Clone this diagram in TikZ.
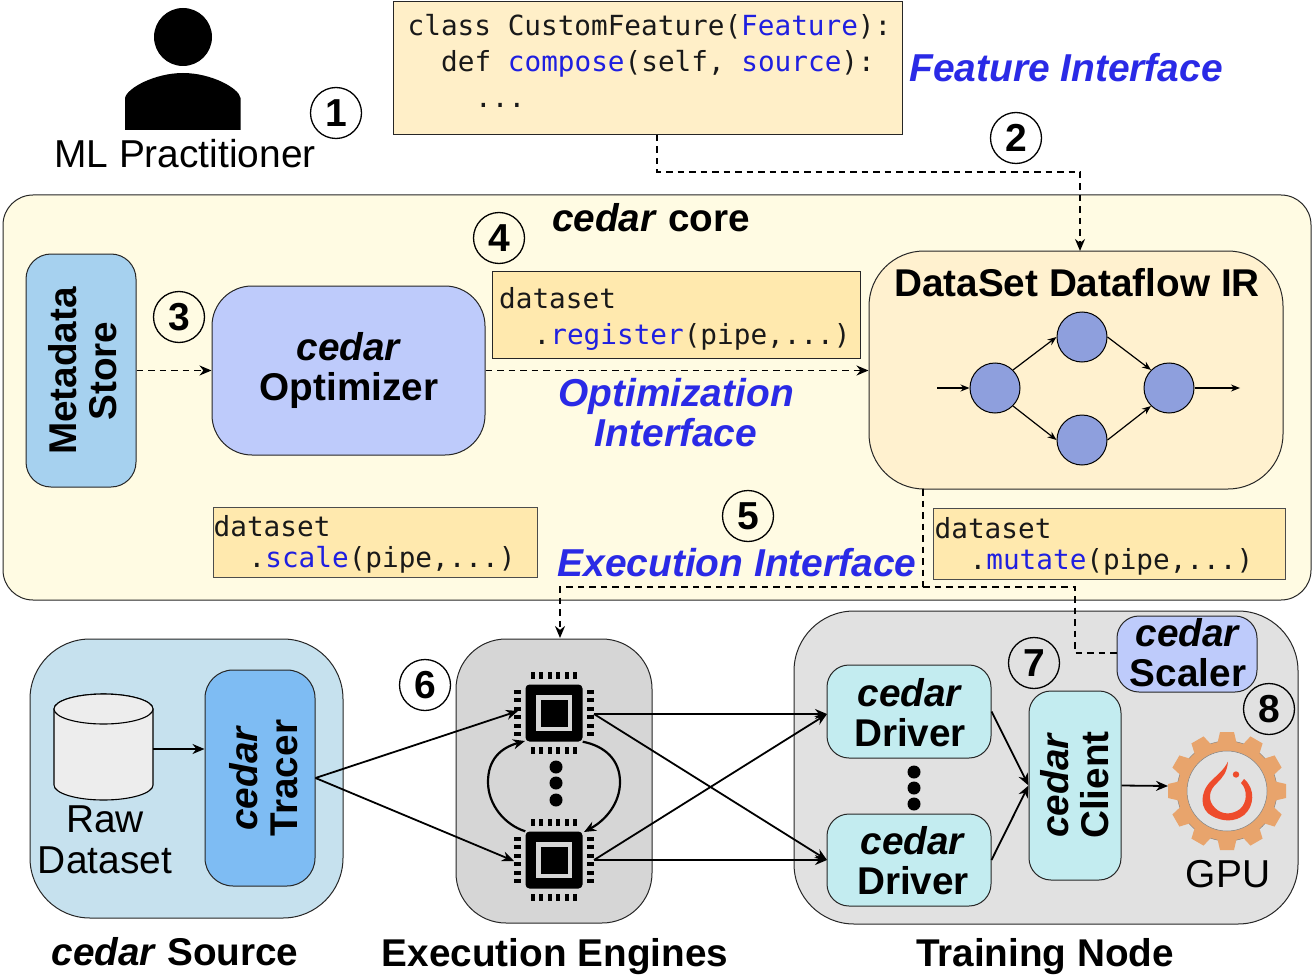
\documentclass[tikz,border=0pt]{standalone}
\usepackage{fontspec}
\setmainfont{Liberation Sans}
\newfontfamily\codefont{DejaVu Sans Mono}
\usetikzlibrary{arrows.meta,calc}
\definecolor{coreY}{HTML}{FFFBE3}
\definecolor{boxO}{HTML}{FFEFC8}
\definecolor{codeO}{HTML}{FFE9AE}
\definecolor{irO}{HTML}{FFF1CF}
\definecolor{metaB}{HTML}{A6D1EF}
\definecolor{optB}{HTML}{BECBFB}
\definecolor{srcB}{HTML}{C6E1EE}
\definecolor{traceB}{HTML}{7EBCF3}
\definecolor{engG}{HTML}{D6D6D6}
\definecolor{trainG}{HTML}{E1E1E1}
\definecolor{cyanB}{HTML}{C3ECF0}
\definecolor{dagB}{HTML}{8E9FDD}
\definecolor{ifaceB}{HTML}{2A2AE6}
\definecolor{codeB}{HTML}{1F1FE0}
\definecolor{gearO}{HTML}{E8A46C}
\definecolor{torchR}{HTML}{EE4C2C}
\newcommand{\kw}[1]{\textcolor{codeB}{#1}}
\newcommand{\ced}{\textbf{\textit{cedar}}}
\tikzset{
  x=1pt,y=-1pt,
  arrowtip/.style={-{Stealth[length=12pt,width=10pt]}},
  smalltip/.style={-{Stealth[length=9pt,width=7pt]}},
  conn/.style={draw=black,line width=1.8pt},
  dashconn/.style={conn,dash pattern=on 6.5pt off 5pt},
  thinconn/.style={draw=black,line width=1.2pt},
  frame/.style={draw=black!85,line width=1pt,inner sep=0pt,align=center},
  rbox/.style={frame,rounded corners=#1},
  codetext/.style={anchor=base west,inner sep=0pt,font=\codefont\fontsize{27.7}{30}\selectfont,text=black!90},
  numc/.style={circle,draw=black,line width=1.3pt,minimum size=51pt,inner sep=0pt,font=\bfseries\fontsize{39}{40}\selectfont},
  headt/.style={font=\bfseries\fontsize{38.7}{40}\selectfont,align=center,inner sep=0pt},
  plaint/.style={font=\fontsize{38.9}{41}\selectfont,align=center,inner sep=0pt},
  iface/.style={font=\bfseries\itshape\fontsize{38.9}{40}\selectfont,text=ifaceB,align=center,inner sep=0pt},
  dagn/.style={circle,draw=black,line width=1pt,fill=dagB,minimum size=50pt,inner sep=0pt},
  dotn/.style={circle,fill=black,minimum size=13pt,inner sep=0pt},
  pinrect/.style={fill=black,draw=none},
}
\newcommand{\chip}[3]{%
  \node[fill=black,rounded corners=4pt,minimum size=57pt,inner sep=0pt] (#3) at (#1,#2) {};
  \fill[engG] (#1-18,#2-18) rectangle (#1+18,#2+18);
  \fill[black] (#1-13.5,#2-13.5) rectangle (#1+13.5,#2+13.5);
  \foreach \k in {-2.5,-1.5,-.5,.5,1.5,2.5}{
    \fill[pinrect] (#1+\k*8.45-2,#2-41) rectangle (#1+\k*8.45+2,#2-34);
    \fill[pinrect] (#1+\k*8.45-2,#2+34) rectangle (#1+\k*8.45+2,#2+41);
    \fill[pinrect] (#1-40,#2+\k*8.45-2) rectangle (#1-33,#2+\k*8.45+2);
    \fill[pinrect] (#1+33,#2+\k*8.45-2) rectangle (#1+40,#2+\k*8.45+2);
  }%
}
\begin{document}
\begin{tikzpicture}
\useasboundingbox (0,0) rectangle (1313,976);
\fill[white] (0,0) rectangle (1313,976);

% person
\node[circle,fill=black,minimum size=58pt,inner sep=0pt] (phead) at (183,37) {};
\fill[black] (125,130) -- (125,98) .. controls (127,88) and (155,73) .. (183,73) .. controls (211,73) and (239,88) .. (240.5,98) -- (240.5,130) -- cycle;
\node[plaint] (mlp) at (185,154) {ML Practitioner};

% feature box
\node[frame,fill=boxO,minimum width=509pt,minimum height=133pt] (feat) at (647.5,68.5) {};
\node[codetext] (c1) at (407.5,36) {class CustomFeature(\kw{Feature}):};
\node[codetext] (c2) at (441,72) {def \kw{compose}(self, \kw{source}):};
\node[codetext] (c3) at (475,108) {...};
\node[iface] (fi) at (1066,68) {Feature Interface};

% core
\node[rbox=30pt,fill=coreY,minimum width=1308pt,minimum height=405pt] (core) at (657,397.5) {};
\node[headt] (coret) at (651,218) {\ced{} core};

\node[rbox=25pt,fill=metaB,minimum width=110pt,minimum height=233pt] (meta) at (81,370.5) {};
\node[headt,rotate=90] (metat) at (83,371) {Metadata\\Store};
\node[rbox=40pt,fill=optB,minimum width=273pt,minimum height=169pt] (opt) at (348.5,370.5) {};
\node[headt] (optt) at (349,370.5) {\ced{}\\Optimizer};

\node[frame,fill=codeO,minimum width=368pt,minimum height=87pt] (regb) at (676,314.5) {};
\node[codetext] (r1) at (499,308) {dataset};
\node[codetext] (r2) at (533.5,344) {.\kw{register}(pipe,...)};
\node[iface] (oi) at (676,412.5) {Optimization\\Interface};

\node[rbox=55pt,fill=irO,minimum width=414pt,minimum height=238pt] (ir) at (1076,370) {};
\node[headt] (irt) at (1077,283) {DataSet Dataflow IR};
\node[dagn] (d1) at (995,388) {};
\node[dagn] (d2) at (1082,337) {};
\node[dagn] (d3) at (1082,440) {};
\node[dagn] (d4) at (1169,388) {};
\coordinate (din) at (937,388);
\coordinate (dout) at (1240,388);
\draw[thinconn,smalltip] (din) -- (d1);
\draw[thinconn,smalltip] (d1.north east) -- (d2.west);
\draw[thinconn,smalltip] (d1.south east) -- (d3.west);
\draw[thinconn,smalltip] (d2.east) -- (d4.north west);
\draw[thinconn,smalltip] (d3.east) -- (d4.south west);
\draw[thinconn,smalltip] (d4) -- (dout);

\node[frame,draw=black!70,fill=codeO,minimum width=324pt,minimum height=70pt] (scb) at (375,542) {};
\node[codetext] (s1) at (213.5,536) {dataset};
\node[codetext] (s2) at (248.5,567) {.\kw{scale}(pipe,...)};
\node[iface] (ei) at (737,563) {Execution Interface};
\node[frame,draw=black!70,fill=codeO,minimum width=352pt,minimum height=71pt] (mub) at (1109,543.5) {};
\node[codetext] (m1) at (934.5,538) {dataset};
\node[codetext] (m2) at (969.5,569) {.\kw{mutate}(pipe,...)};

% bottom containers
\node[rbox=60pt,fill=srcB,minimum width=313pt,minimum height=279pt] (src) at (186.5,778.5) {};
\node[rbox=50pt,fill=engG,minimum width=196pt,minimum height=284pt] (eng) at (554,781) {};
\node[rbox=60pt,fill=trainG,minimum width=504pt,minimum height=313pt] (train) at (1046,767.5) {};

% cylinder
\path[draw=black,line width=1.1pt,fill=black!7] (54,709) -- (54,785) arc[start angle=180,end angle=360,x radius=49.5,y radius=-15] -- (153,709) arc[start angle=0,end angle=180,x radius=49.5,y radius=-15] -- cycle;
\draw[draw=black,line width=1.1pt,fill=black!7] (103.5,709) ellipse[x radius=49.5,y radius=15];
\coordinate (cyl) at (153,749);
\node[plaint] (rawt) at (105,840) {Raw\\Dataset};
\node[rbox=28pt,fill=traceB,minimum width=110pt,minimum height=216pt] (tracer) at (260,778) {};
\node[headt,rotate=90] (tracet) at (264,778) {\ced{}\\Tracer};

% chips
\chip{554}{713}{chipa}
\chip{554}{860}{chipb}
\node[dotn] (ed1) at (556,767) {};
\node[dotn] (ed2) at (556,783) {};
\node[dotn] (ed3) at (556,800) {};

% drivers
\node[rbox=22pt,fill=cyanB,minimum width=164pt,minimum height=93pt] (dra) at (909,711.5) {};
\node[headt] (drat) at (910,713) {\ced{}\\Driver};
\node[rbox=22pt,fill=cyanB,minimum width=164pt,minimum height=92pt] (drb) at (909,860) {};
\node[headt] (drbt) at (913,861) {\ced{}\\Driver};
\node[dotn] (dd1) at (914,772) {};
\node[dotn] (dd2) at (914,788) {};
\node[dotn] (dd3) at (914,804) {};
\node[rbox=22pt,fill=cyanB,minimum width=92pt,minimum height=189pt] (client) at (1075,785.5) {};
\node[headt,rotate=90] (clientt) at (1075,785) {\ced{}\\Client};
\node[rbox=22pt,fill=optB,minimum width=140pt,minimum height=76pt] (scaler) at (1187,654) {};
\node[headt] (scalert) at (1188,653) {\ced{}\\Scaler};

% gear
\begin{scope}[shift={(1227,791)}]
\fill[gearO,draw=gray,line width=.4pt] (0,0) circle[radius=50];
\foreach \a in {0,30,...,330}{
  \fill[gearO,rotate=\a] (-10,-46) -- (-7,-59) -- (7,-59) -- (10,-46) -- cycle;
}
\fill[trainG,draw=gray,line width=.5pt] (0,0) circle[radius=40];
\fill[torchR] (1,-29.5) .. controls (-3,-21) and (-10,-16) .. (-16,-10)
  .. controls (-28,2) and (-27,19) .. (-15,25) .. controls (-4,31) and (8,31) .. (17,24)
  .. controls (27,16) and (29,-2) .. (17,-12) -- (14,-8) .. controls (21,-1) and (20,12) .. (13,18)
  .. controls (5,24) and (-5,24) .. (-12,17) .. controls (-20,9) and (-18,-1) .. (-10,-8)
  .. controls (-5,-13) and (0,-18) .. (1,-29.5) -- cycle;
\fill[torchR] (9,-16.5) circle[radius=3.2];
\end{scope}
\node[plaint] (gput) at (1228,874) {GPU};
\coordinate (gearin) at (1168,786);

% connectors
\coordinate (featout) at (657,135);
\coordinate (irin) at (1080,251);
\draw[dashconn,arrowtip] (featout) -- (657,172) -- (1080,172) -- (irin);
\draw[dashconn,arrowtip] (meta.east) -- (opt.west);
\draw[dashconn,arrowtip] (opt.east) -- (ir.west |- opt.east);
\coordinate (irout) at (923,489);
\coordinate (engin) at (560,638);
\coordinate (split) at (923,587);
\draw[dashconn,arrowtip] (irout) -- (split) -- (560,587) -- (engin);
\coordinate (scalerin) at (1117,653);
\draw[dashconn] (split) -- (1075,587) -- (1075,653) -- (scalerin);

\draw[conn,arrowtip] (cyl) -- (cyl -| tracer.west);
\coordinate (ain) at (518,711);
\coordinate (bin) at (514,861);
\draw[conn,arrowtip] (tracer.east) -- (ain);
\draw[conn,arrowtip] (tracer.east) -- (bin);
\coordinate (aout) at (594,714);
\coordinate (bout) at (594,860);
\coordinate (da) at (827,714);
\coordinate (db) at (827,860);
\draw[conn,arrowtip] (aout) -- (da);
\draw[conn,arrowtip] (aout) -- (db);
\draw[conn,arrowtip] (bout) -- (da);
\draw[conn,arrowtip] (bout) -- (db);
\draw[conn,line width=2.2pt,arrowtip] (chipa.south east) .. controls (605,746) and (620,760) .. (620,782) .. controls (620,803) and (606,820) .. (584,832);
\draw[conn,line width=2.2pt,arrowtip] (chipb.north west) .. controls (505,825) and (488,805) .. (488,782) .. controls (488,760) and (500,748) .. (525,741);
\draw[conn,arrowtip] (dra.east) -- (client.west);
\draw[conn,arrowtip] (drb.east) -- (client.west);
\draw[conn,arrowtip] (client.east) -- (gearin);

% numbers
\node[numc] (n1) at (336,113) {1};
\node[numc] (n2) at (1016,138) {2};
\node[numc] (n3) at (179,317) {3};
\node[numc] (n4) at (499,238) {4};
\node[numc] (n5) at (748,516) {5};
\node[numc] (n6) at (425,685) {6};
\node[numc] (n7) at (1034,663) {7};
\node[numc] (n8) at (1269,709) {8};

% captions
\node[headt] (cs) at (175,952) {\ced{} Source};
\node[headt] (ce) at (555,957) {Execution Engines};
\node[headt] (ct) at (1045,957) {Training Node};
\end{tikzpicture}
\end{document}
